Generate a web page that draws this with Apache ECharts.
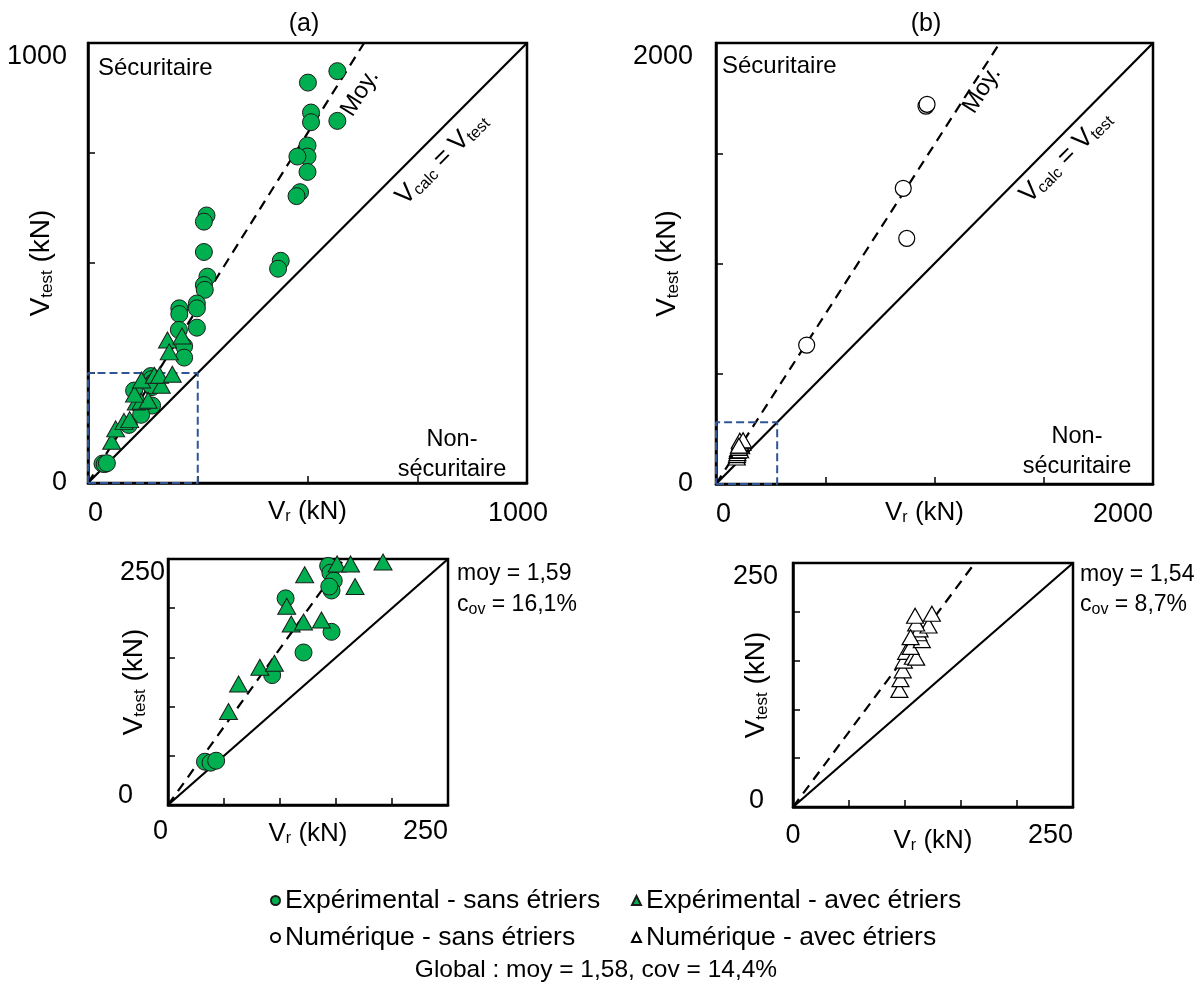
<!DOCTYPE html>
<html><head><meta charset="utf-8">
<script src="https://cdn.jsdelivr.net/npm/echarts@6/dist/echarts.min.js"></script>
<style>html,body{margin:0;padding:0;background:#fff}#c{width:1204px;height:989px}</style>
</head><body><div id="c"></div>
<script>
// ---- data (kN) ----
const expSansX = [568,501,508,508,568,500,500,477,500,483,475,270,264,264,439,433,272,264,266,248,248,208,208,248,207,219,219,143,145,148,146,144,105,146,121,93,33,38,43];
const expSansY = [936,910,842,820,823,767,742,742,707,661,652,608,594,525,505,487,469,450,439,408,397,397,384,353,348,311,285,243,236,228,218,222,210,176,155,132,44,43,45];
const expAvecX = [181,214,185,54,63,82,95,110,121,137,106,122,167,151,163,192];
const expAvecY = [325,334,298,95,123,140,144,184,186,188,202,234,222,245,245,247];
const numSansX = [961,966,857,873,415];
const numSansY = [1714,1722,1341,1114,630];
const numAvecX = [95,96,98,99,101,107,110,105,115,112,113,121,110,109,124,105];
const numAvecY = [120,131,140,150,159,154,153,164,171,178,182,186,188,196,198,174];
const moyA = 1.59, moyB = 1.54;
const axisMax = [1000, 2000, 250, 250];
const axisStep = [250, 500, 50, 50];
const zoomBoxA = 250, zoomBoxB = 280;
const seriesNames = ['Expérimental - sans étriers','Expérimental - avec étriers','Numérique - sans étriers','Numérique - avec étriers'];

const pairs = (xs, ys) => xs.map((x, i) => [x, ys[i]]);
const FF = 'Liberation Sans, Arial, sans-serif';
const GREEN = '#00B050';

const chart = echarts.init(document.getElementById('c'), null, {renderer: 'canvas'});

const grids = [
  {left: 88, top: 43, width: 439, height: 440},
  {left: 716, top: 43, width: 437, height: 441},
  {left: 168, top: 559, width: 280, height: 246},
  {left: 793, top: 563, width: 280, height: 244}
].map(g => Object.assign(g, {show: true, borderColor: '#000', borderWidth: 2.5, backgroundColor: 'transparent',
  containLabel: false, outerBoundsMode: 'none'}));

const subRich = (big, small) => ({
  v: {fontSize: big, fontFamily: FF, color: '#000'},
  s: {fontSize: small, fontFamily: FF, color: '#000', padding: [Math.round(big*0.42),0,0,0]}
});

const xCfg = [
  {alignMin: 'left', alignMax: 'center', gap: 15, margin: 17, pad: [0,0,0,0], maxPad: 18},
  {alignMin: 'left', alignMax: 'right', gap: 15, margin: 17, pad: [0,20,0,0], maxPad: 0},
  {alignMin: 'right', alignMax: 'right', gap: 15, margin: 13, pad: [0,0,0,0], maxPad: 0},
  {alignMin: 'center', alignMax: 'right', gap: 20, margin: 15, pad: [0,0,0,0], maxPad: 0}
];
const yCfg = [
  {margin: 21, zeroPad: 0, zeroPadB: 0, gap: 32},
  {margin: 23, zeroPad: 0, zeroPadB: 0, gap: 34},
  {margin: 3, zeroPad: 32, zeroPadB: 18, gap: 19},
  {margin: 15, zeroPad: 14, zeroPadB: 12, gap: 22}
];

const xAxes = axisMax.map((m, i) => ({
  type: 'value', gridIndex: i, min: 0, max: m, interval: axisStep[i],
  axisLine: {show: true, onZero: false, lineStyle: {color: '#000', width: 2.5}},
  axisTick: {show: true, inside: true, length: 7, lineStyle: {color: '#000', width: 1.5}},
  splitLine: {show: false},
  axisLabel: {
    customValues: [0, m], color: '#000', fontSize: 27, fontFamily: FF, margin: xCfg[i].margin,
    alignMinLabel: xCfg[i].alignMin, alignMaxLabel: xCfg[i].alignMax, hideOverlap: false,
    formatter: v => v === 0 ? '{n|0}' : '{p|' + v + '}',
    rich: {n: {fontSize: 27, fontFamily: FF, color: '#000'},
           p: {fontSize: 27, fontFamily: FF, color: '#000', padding: [0, xCfg[i].maxPad, 0, 0]}}
  },
  name: '{v|V}{s|r}{v| (kN)}', nameLocation: 'middle', nameGap: xCfg[i].gap, nameMoveOverlap: false,
  nameTextStyle: {padding: xCfg[i].pad, rich: subRich(26, 16)}
}));

const yAxes = axisMax.map((m, i) => ({
  type: 'value', gridIndex: i, min: 0, max: m, interval: axisStep[i],
  axisLine: {show: true, onZero: false, lineStyle: {color: '#000', width: 2.5}},
  axisTick: {show: true, inside: true, length: 7, lineStyle: {color: '#000', width: 1.5}},
  splitLine: {show: false},
  axisLabel: {
    customValues: [0, m], color: '#000', fontSize: 27, fontFamily: FF, margin: yCfg[i].margin,
    verticalAlignMaxLabel: 'top', verticalAlignMinLabel: 'middle', hideOverlap: false,
    formatter: v => v === 0 ? '{z|0}' : '{n|' + v + '}',
    rich: {z: {fontSize: 27, fontFamily: FF, color: '#000', padding: [0, yCfg[i].zeroPad, yCfg[i].zeroPadB, 0]},
           n: {fontSize: 27, fontFamily: FF, color: '#000'}}
  },
  name: '{v|V}{s|test}{v| (kN)}', nameLocation: 'middle', nameRotate: 90, nameGap: yCfg[i].gap, nameMoveOverlap: false,
  nameTextStyle: {rich: subRich(28, 17)}
}));

const lineSeries = (gi, m, slope) => [
  {type: 'line', xAxisIndex: gi, yAxisIndex: gi, silent: true, symbol: 'none', z: 1,
   data: [[0,0],[m,m]], lineStyle: {color: '#000', width: 2.2}},
  {type: 'line', xAxisIndex: gi, yAxisIndex: gi, silent: true, symbol: 'none', z: 1,
   data: [[0,0],[m/slope, m]], lineStyle: {color: '#000', width: 2.2, type: [10,7]}}
];
const boxSeries = (gi, b) => ({
  type: 'line', xAxisIndex: gi, yAxisIndex: gi, silent: true, symbol: 'none', z: 3,
  data: [[0,0],[b,0],[b,b],[0,b],[0,0]], lineStyle: {color: '#2F5597', width: 2, type: [8,4]}
});

const greenStyle = {color: GREEN, borderColor: '#1b1b1b', borderWidth: 1, opacity: 1};
const whiteStyle = {color: '#fff', borderColor: '#000', borderWidth: 1.2, opacity: 1};
const sc = (name, gi, data, symbol, size, style) => ({
  name, type: 'scatter', xAxisIndex: gi, yAxisIndex: gi, data, symbol, symbolSize: size,
  itemStyle: style, clip: true, z: 4, emphasis: {disabled: true}
});

const series = [
  ...lineSeries(0, 1000, moyA), boxSeries(0, zoomBoxA),
  ...lineSeries(1, 2000, moyB), boxSeries(1, zoomBoxB),
  ...lineSeries(2, 250, moyA),
  ...lineSeries(3, 250, moyB),
  sc(seriesNames[0], 0, pairs(expSansX, expSansY), 'circle', 17, greenStyle),
  sc(seriesNames[1], 0, pairs(expAvecX, expAvecY), 'triangle', [18,16], greenStyle),
  sc(seriesNames[2], 1, pairs(numSansX, numSansY), 'circle', 16, whiteStyle),
  sc(seriesNames[3], 1, pairs(numAvecX, numAvecY), 'triangle', [17,15], whiteStyle),
  sc(seriesNames[0], 2, pairs(expSansX, expSansY), 'circle', 17, greenStyle),
  sc(seriesNames[1], 2, pairs(expAvecX, expAvecY), 'triangle', [18,16], greenStyle),
  sc(seriesNames[2], 3, pairs(numSansX, numSansY), 'circle', 16, whiteStyle),
  sc(seriesNames[3], 3, pairs(numAvecX, numAvecY), 'triangle', [17,15], whiteStyle)
];

const legendPos = [[270,887],[631,887],[270,924],[631,924]];
const legends = seriesNames.map((n, i) => ({
  data: [n], left: legendPos[i][0], top: legendPos[i][1], itemWidth: 9, itemHeight: 9, padding: 0,
  selectedMode: false, textStyle: {fontSize: 26.5, fontFamily: FF, color: '#000'}
}));

const txt = (x, y, text, opts) => Object.assign({
  type: 'text', x, y, silent: true,
  style: Object.assign({text, fill: '#000', fontSize: 23, fontFamily: FF,
    align: 'left', textAlign: 'left', verticalAlign: 'middle', textVerticalAlign: 'middle'}, opts && opts.style || {})
}, opts && opts.el || {});
const center = {align: 'center', textAlign: 'center'};
const vRich = {v: {fontSize: 26, fontFamily: FF, fill: '#000'}, s: {fontSize: 16, fontFamily: FF, fill: '#000', padding: [11,0,0,0]}};
const covRich = {v: {fontSize: 23, fontFamily: FF, fill: '#000'}, s: {fontSize: 16, fontFamily: FF, fill: '#000', padding: [9,0,0,0]}};

const graphic = [
  txt(304, 24, '(a)', {style: Object.assign({fontSize: 25}, center)}),
  txt(926, 24, '(b)', {style: Object.assign({fontSize: 25}, center)}),
  txt(98, 68, 'Sécuritaire', {style: {fontSize: 24}}),
  txt(722, 66, 'Sécuritaire', {style: {fontSize: 24}}),
  txt(452, 455, 'Non-\nsécuritaire', {style: Object.assign({lineHeight: 30, fontSize: 23.5}, center)}),
  txt(1077, 452, 'Non-\nsécuritaire', {style: Object.assign({lineHeight: 30, fontSize: 23.5}, center)}),
  txt(360, 93, 'Moy.', {style: Object.assign({fontSize: 24}, center), el: {rotation: Math.atan(moyA * 440/439)}}),
  txt(982, 90, 'Moy.', {style: Object.assign({fontSize: 24}, center), el: {rotation: Math.atan(moyB * 441/437)}}),
  txt(442, 159, '{v|V}{s|calc}{v| = V}{s|test}', {style: Object.assign({rich: vRich}, center), el: {rotation: Math.PI/4}}),
  txt(1066, 157, '{v|V}{s|calc}{v| = V}{s|test}', {style: Object.assign({rich: vRich}, center), el: {rotation: Math.PI/4}}),
  txt(457, 574, 'moy = 1,59'),
  txt(457, 605, '{v|c}{s|ov}{v| = 16,1%}', {style: {rich: covRich}}),
  txt(1080, 575, 'moy = 1,54'),
  txt(1080, 605, '{v|c}{s|ov}{v| = 8,7%}', {style: {rich: covRich}}),
  txt(596, 970, 'Global : moy = 1,58, cov = 14,4%', {style: Object.assign({fontSize: 24.5}, center)})
];

chart.setOption({
  backgroundColor: '#fff',
  animation: false,
  textStyle: {fontFamily: FF},
  grid: grids,
  xAxis: xAxes,
  yAxis: yAxes,
  legend: legends,
  series,
  graphic
});
</script>
</body></html>
